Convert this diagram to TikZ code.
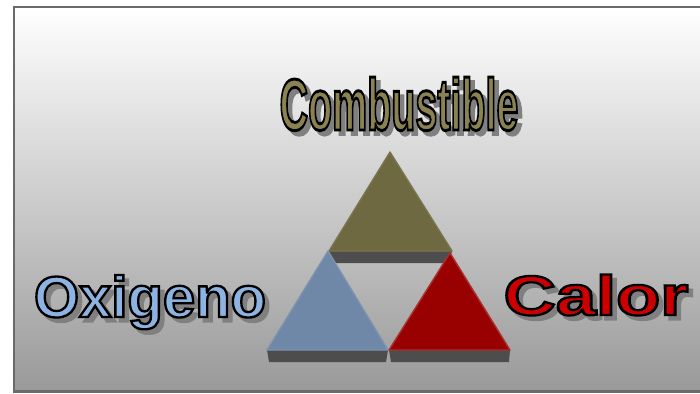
\documentclass[tikz,border=0pt]{standalone}
\usepackage{fontspec}
\setmainfont{Liberation Sans}
\newfontfamily\outlinefont{Liberation Sans}[BoldFont={* Bold}, BoldFeatures={FakeBold=4}]
\usetikzlibrary{calc}
\definecolor{framegray}{HTML}{6A6A6A}
\definecolor{bgbottom}{HTML}{999999}
\definecolor{olivetri}{HTML}{6E6941}
\definecolor{oliveedge}{HTML}{7A754E}
\definecolor{bluetri}{HTML}{7088A8}
\definecolor{blueedge}{HTML}{7D93AE}
\definecolor{redtri}{HTML}{990000}
\definecolor{rededge}{HTML}{A83030}
\definecolor{slabgray}{HTML}{4D4D4D}
\definecolor{combfill}{HTML}{8B8251}
\definecolor{oxifill}{HTML}{8DB3E2}
\definecolor{calfill}{HTML}{CC0000}
\definecolor{shadowgray}{HTML}{808080}
\tikzset{
  lbl/.style={inner sep=0pt, outer sep=0pt, anchor=base, font=\outlinefont\bfseries},
  slab/.style={fill=slabgray, draw=none},
  tri/.style={line width=1.4pt, line join=round},
}
\newcommand\outtext[4]{%
  \node[lbl, text=shadowgray] (#1-s) at ($(#2)+(4.5,4.5)$) {#3};
  \node[lbl, text=#4] (#1) at (#2) {\special{pdf:code 0 0 0 RG}#3};
}
\begin{document}
\begin{tikzpicture}[x=1pt, y=-1pt]
\useasboundingbox (0,0) rectangle (700,393);
\clip (0,0) rectangle (700,393);
\fill[white] (0,0) rectangle (700,393);
\shade[top color=white, bottom color=bgbottom] (14,7) rectangle (705,392);
\draw[framegray, line width=2.5pt] (14,7) rectangle (705,391.5);

% slabs
\fill[slab] (329,251) -- (452,251) -- (449,263) -- (332,263) -- cycle;
\fill[slab] (267,350) -- (388,350) -- (386,362) -- (269,362) -- cycle;
\fill[slab] (389,350) -- (510,350) -- (509,362) -- (391,362) -- cycle;

% triangles
\coordinate (ta) at (390,152);
\coordinate (tl) at (329,251);
\coordinate (tr) at (452,251);
\coordinate (la) at (328,251);
\coordinate (ll) at (267,350);
\coordinate (lr) at (388,350);
\coordinate (ra) at (450,253);
\coordinate (rl) at (389,350);
\coordinate (rr) at (510,350);
\filldraw[tri, fill=olivetri, draw=oliveedge] (ta) -- (tr) -- (tl) -- cycle;
\filldraw[tri, fill=bluetri, draw=blueedge] (la) -- (lr) -- (ll) -- cycle;
\filldraw[tri, fill=redtri, draw=rededge] (ra) -- (rr) -- (rl) -- cycle;

% labels
\coordinate (pcomb) at (399,130);
\coordinate (poxi) at (150,317);
\coordinate (pcal) at (596,315);
\outtext{comb}{pcomb}{\scalebox{0.54}[1]{\fontsize{73}{75}\selectfont Combustible}}{combfill}
\outtext{oxi}{poxi}{\scalebox{1.0}[1]{\fontsize{58}{60}\selectfont Oxigeno}}{oxifill}
\outtext{cal}{pcal}{\scalebox{1.29}[1]{\fontsize{56}{58}\selectfont Calor}}{calfill}
\end{tikzpicture}
\end{document}
